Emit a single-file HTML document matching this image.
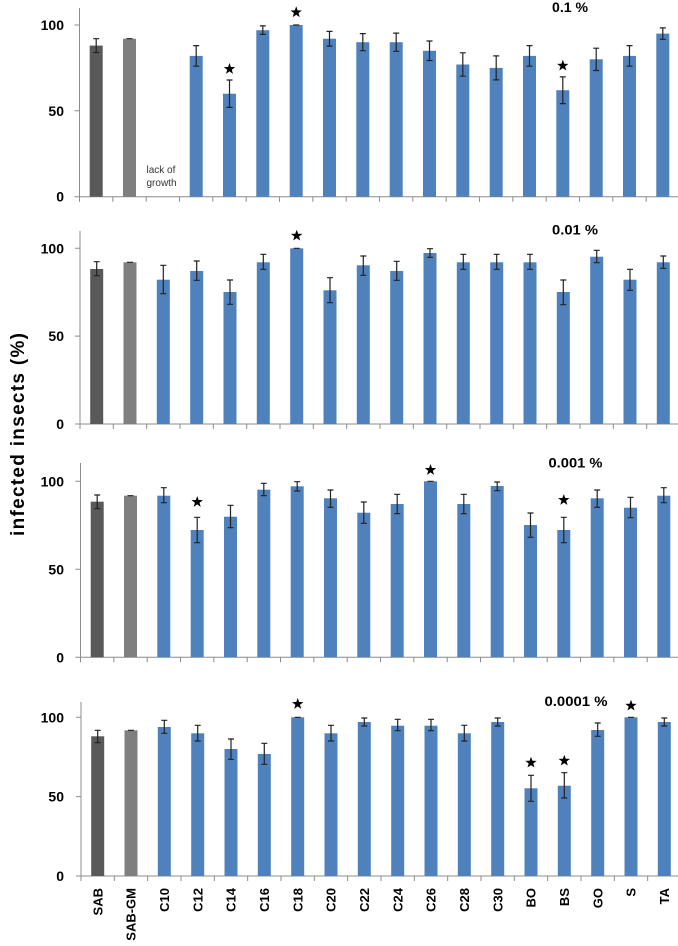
<!DOCTYPE html>
<html><head><meta charset="utf-8"><style>
html,body{margin:0;padding:0;background:#fff;}
svg{display:block;}
text{font-family:"Liberation Sans",Arial,sans-serif;}
</style></head><body>
<svg width="678" height="946" viewBox="0 0 678 946" xmlns="http://www.w3.org/2000/svg">
<defs>
<polygon id="star" points="0,-6 1.41,-1.94 5.71,-1.85 2.28,0.74 3.53,4.85 0,2.4 -3.53,4.85 -2.28,0.74 -5.71,-1.85 -1.41,-1.94" fill="#000"/>
</defs>

<!-- Y axis title -->
<text x="24" y="434.5" transform="rotate(-90 24 434.5)" text-anchor="middle" font-size="19" font-weight="bold" fill="#000" textLength="203" lengthAdjust="spacing">infected insects (%)</text>

<!-- ================= PANEL 1 ================= -->
<g transform="translate(79.5,196.7)">
<path d="M0 -188.7V0H600 M-5 0h5 M-5 -85.9h5 M-5 -171.7h5 M0 0v5 M33.33 0v5 M66.67 0v5 M100 0v5 M133.33 0v5 M166.67 0v5 M200 0v5 M233.33 0v5 M266.67 0v5 M300 0v5 M333.33 0v5 M366.67 0v5 M400 0v5 M433.33 0v5 M466.67 0v5 M500 0v5 M533.33 0v5 M566.67 0v5 M600 0v5" stroke="#8c8c8c" stroke-width="1" fill="none"/>
<g font-size="14" font-weight="bold" text-anchor="end" fill="#000">
<text x="-15.5" y="5">0</text><text x="-15.5" y="-80.9">50</text><text x="-15.5" y="-166.7">100</text>
</g>
<rect x="10.2" y="-151.1" width="13" height="151.1" fill="#595959"/>
<rect x="43.5" y="-158" width="13" height="158" fill="#7f7f7f"/>
<g fill="#4f81bd">
<rect x="110.2" y="-140.8" width="13" height="140.8"/>
<rect x="143.5" y="-103" width="13" height="103"/>
<rect x="176.8" y="-166.5" width="13" height="166.5"/>
<rect x="210.2" y="-171.7" width="13" height="171.7"/>
<rect x="243.5" y="-158" width="13" height="158"/>
<rect x="276.8" y="-154.5" width="13" height="154.5"/>
<rect x="310.2" y="-154.5" width="13" height="154.5"/>
<rect x="343.5" y="-145.9" width="13" height="145.9"/>
<rect x="376.8" y="-132.2" width="13" height="132.2"/>
<rect x="410.2" y="-128.8" width="13" height="128.8"/>
<rect x="443.5" y="-140.8" width="13" height="140.8"/>
<rect x="476.8" y="-106.5" width="13" height="106.5"/>
<rect x="510.2" y="-137.4" width="13" height="137.4"/>
<rect x="543.5" y="-140.8" width="13" height="140.8"/>
<rect x="576.8" y="-163.1" width="13" height="163.1"/>
</g>
<path stroke="#222" stroke-width="1.2" fill="none" d="
M16.7 -158V-144.2M13.7 -158h6M13.7 -144.2h6
M47 -158h6
M116.7 -151.1V-130.5M113.7 -151.1h6M113.7 -130.5h6
M150 -116.7V-89.3M147 -116.7h6M147 -89.3h6
M183.3 -170.8V-162.3M180.3 -170.8h6M180.3 -162.3h6
M213.7 -171.7h6
M250 -165.3V-150.6M247 -165.3h6M247 -150.6h6
M283.3 -163.1V-146M280.3 -163.1h6M280.3 -146h6
M316.7 -163.6V-145.4M313.7 -163.6h6M313.7 -145.4h6
M350 -155.7V-136.2M347 -155.7h6M347 -136.2h6
M383.3 -143.9V-120.5M380.3 -143.9h6M380.3 -120.5h6
M416.7 -140.8V-116.8M413.7 -140.8h6M413.7 -116.8h6
M450 -151.1V-130.5M447 -151.1h6M447 -130.5h6
M483.3 -119.8V-93.1M480.3 -119.8h6M480.3 -93.1h6
M516.7 -148.5V-126.2M513.7 -148.5h6M513.7 -126.2h6
M550 -151.1V-130.5M547 -151.1h6M547 -130.5h6
M583.3 -168.8V-157.4M580.3 -168.8h6M580.3 -157.4h6"/>
<use href="#star" x="150" y="-127.7"/>
<use href="#star" x="216.7" y="-184.4"/>
<use href="#star" x="483.3" y="-131"/>
<text x="67" y="-23.5" font-size="10" fill="#333">lack of</text>
<text x="67" y="-10.5" font-size="10" fill="#333">growth</text>
</g>
<text x="552" y="12" font-size="14" font-weight="bold" textLength="36" lengthAdjust="spacingAndGlyphs">0.1 %</text>

<!-- ================= PANEL 2 ================= -->
<g transform="translate(80,424)">
<path d="M0 -193V0H600 M-5 0h5 M-5 -87.9h5 M-5 -175.7h5 M0 0v5 M33.33 0v5 M66.67 0v5 M100 0v5 M133.33 0v5 M166.67 0v5 M200 0v5 M233.33 0v5 M266.67 0v5 M300 0v5 M333.33 0v5 M366.67 0v5 M400 0v5 M433.33 0v5 M466.67 0v5 M500 0v5 M533.33 0v5 M566.67 0v5 M600 0v5" stroke="#8c8c8c" stroke-width="1" fill="none"/>
<g font-size="14" font-weight="bold" text-anchor="end" fill="#000">
<text x="-16" y="5">0</text><text x="-16" y="-82.9">50</text><text x="-16" y="-170.7">100</text>
</g>
<rect x="10.2" y="-155" width="13" height="155" fill="#595959"/>
<rect x="43.5" y="-161.7" width="13" height="161.7" fill="#7f7f7f"/>
<g fill="#4f81bd">
<rect x="76.8" y="-144.3" width="13" height="144.3"/>
<rect x="110.2" y="-153" width="13" height="153"/>
<rect x="143.5" y="-132" width="13" height="132"/>
<rect x="176.8" y="-161.7" width="13" height="161.7"/>
<rect x="210.2" y="-175.7" width="13" height="175.7"/>
<rect x="243.5" y="-133.7" width="13" height="133.7"/>
<rect x="276.8" y="-158.7" width="13" height="158.7"/>
<rect x="310.2" y="-153" width="13" height="153"/>
<rect x="343.5" y="-171" width="13" height="171"/>
<rect x="376.8" y="-161.7" width="13" height="161.7"/>
<rect x="410.2" y="-161.7" width="13" height="161.7"/>
<rect x="443.5" y="-161.7" width="13" height="161.7"/>
<rect x="476.8" y="-132" width="13" height="132"/>
<rect x="510.2" y="-167.3" width="13" height="167.3"/>
<rect x="543.5" y="-144.3" width="13" height="144.3"/>
<rect x="576.8" y="-161.7" width="13" height="161.7"/>
</g>
<path stroke="#222" stroke-width="1.2" fill="none" d="
M16.7 -162.3V-148.3M13.7 -162.3h6M13.7 -148.3h6
M47 -161.7h6
M83.3 -158.7V-130.3M80.3 -158.7h6M80.3 -130.3h6
M116.7 -163V-143.7M113.7 -163h6M113.7 -143.7h6
M150 -144V-119.7M147 -144h6M147 -119.7h6
M183.3 -169.7V-154.7M180.3 -169.7h6M180.3 -154.7h6
M213.7 -175.7h6
M250 -146.3V-121.3M247 -146.3h6M247 -121.3h6
M283.3 -168V-148.7M280.3 -168h6M280.3 -148.7h6
M316.7 -162.7V-143.7M313.7 -162.7h6M313.7 -143.7h6
M350 -175.3V-166.7M347 -175.3h6M347 -166.7h6
M383.3 -169.7V-154.7M380.3 -169.7h6M380.3 -154.7h6
M416.7 -169.7V-154.7M413.7 -169.7h6M413.7 -154.7h6
M450 -169.7V-154.7M447 -169.7h6M447 -154.7h6
M483.3 -144V-119.3M480.3 -144h6M480.3 -119.3h6
M516.7 -173.7V-161.3M513.7 -173.7h6M513.7 -161.3h6
M550 -154.7V-133.7M547 -154.7h6M547 -133.7h6
M583.3 -168V-155.7M580.3 -168h6M580.3 -155.7h6"/>
<use href="#star" x="216.7" y="-188.3"/>
</g>
<text x="552" y="234.5" font-size="14" font-weight="bold" textLength="46" lengthAdjust="spacingAndGlyphs">0.01 %</text>

<!-- ================= PANEL 3 ================= -->
<g transform="translate(80.5,657.3)">
<path d="M0 -194.3V0H600 M-5 0h5 M-5 -88h5 M-5 -176h5 M0 0v5 M33.33 0v5 M66.67 0v5 M100 0v5 M133.33 0v5 M166.67 0v5 M200 0v5 M233.33 0v5 M266.67 0v5 M300 0v5 M333.33 0v5 M366.67 0v5 M400 0v5 M433.33 0v5 M466.67 0v5 M500 0v5 M533.33 0v5 M566.67 0v5 M600 0v5" stroke="#8c8c8c" stroke-width="1" fill="none"/>
<g font-size="14" font-weight="bold" text-anchor="end" fill="#000">
<text x="-16.5" y="5">0</text><text x="-16.5" y="-83">50</text><text x="-16.5" y="-171">100</text>
</g>
<rect x="10.2" y="-155.6" width="13" height="155.6" fill="#595959"/>
<rect x="43.5" y="-161.6" width="13" height="161.6" fill="#7f7f7f"/>
<g fill="#4f81bd">
<rect x="76.8" y="-161.6" width="13" height="161.6"/>
<rect x="110.2" y="-127.3" width="13" height="127.3"/>
<rect x="143.5" y="-140.6" width="13" height="140.6"/>
<rect x="176.8" y="-167.6" width="13" height="167.6"/>
<rect x="210.2" y="-171" width="13" height="171"/>
<rect x="243.5" y="-159" width="13" height="159"/>
<rect x="276.8" y="-144.6" width="13" height="144.6"/>
<rect x="310.2" y="-153.3" width="13" height="153.3"/>
<rect x="343.5" y="-176" width="13" height="176"/>
<rect x="376.8" y="-153.3" width="13" height="153.3"/>
<rect x="410.2" y="-171.3" width="13" height="171.3"/>
<rect x="443.5" y="-132.3" width="13" height="132.3"/>
<rect x="476.8" y="-127.3" width="13" height="127.3"/>
<rect x="510.2" y="-159" width="13" height="159"/>
<rect x="543.5" y="-149.6" width="13" height="149.6"/>
<rect x="576.8" y="-161.6" width="13" height="161.6"/>
</g>
<path stroke="#222" stroke-width="1.2" fill="none" d="
M16.7 -162.3V-148.6M13.7 -162.3h6M13.7 -148.6h6
M47 -161.6h6
M83.3 -169.6V-154.6M80.3 -169.6h6M80.3 -154.6h6
M116.7 -140V-114.6M113.7 -140h6M113.7 -114.6h6
M150 -152V-129.6M147 -152h6M147 -129.6h6
M183.3 -174V-161.6M180.3 -174h6M180.3 -161.6h6
M216.7 -175.6V-166.3M213.7 -175.6h6M213.7 -166.3h6
M250 -167.3V-150M247 -167.3h6M247 -150h6
M283.3 -155.3V-134M280.3 -155.3h6M280.3 -134h6
M316.7 -163V-143.6M313.7 -163h6M313.7 -143.6h6
M347 -176h6
M383.3 -163V-143.6M380.3 -163h6M380.3 -143.6h6
M416.7 -175.3V-166.6M413.7 -175.3h6M413.7 -166.6h6
M450 -144.3V-120M447 -144.3h6M447 -120h6
M483.3 -140V-114.6M480.3 -140h6M480.3 -114.6h6
M516.7 -167.3V-150M513.7 -167.3h6M513.7 -150h6
M550 -160V-139.6M547 -160h6M547 -139.6h6
M583.3 -169.6V-154.6M580.3 -169.6h6M580.3 -154.6h6"/>
<use href="#star" x="116.7" y="-155.3"/>
<use href="#star" x="350" y="-187.3"/>
<use href="#star" x="483.3" y="-157.3"/>
</g>
<text x="548.5" y="467.5" font-size="14" font-weight="bold" textLength="54" lengthAdjust="spacingAndGlyphs">0.001 %</text>

<!-- ================= PANEL 4 ================= -->
<g transform="translate(81,876)">
<path d="M0 -174V0H600 M-5 0h5 M-5 -79.4h5 M-5 -158.7h5 M0 0v5 M33.33 0v5 M66.67 0v5 M100 0v5 M133.33 0v5 M166.67 0v5 M200 0v5 M233.33 0v5 M266.67 0v5 M300 0v5 M333.33 0v5 M366.67 0v5 M400 0v5 M433.33 0v5 M466.67 0v5 M500 0v5 M533.33 0v5 M566.67 0v5 M600 0v5" stroke="#8c8c8c" stroke-width="1" fill="none"/>
<g font-size="14" font-weight="bold" text-anchor="end" fill="#000">
<text x="-17" y="5">0</text><text x="-17" y="-74.4">50</text><text x="-17" y="-153.7">100</text>
</g>
<rect x="10.2" y="-139.7" width="13" height="139.7" fill="#595959"/>
<rect x="43.5" y="-145.7" width="13" height="145.7" fill="#7f7f7f"/>
<g fill="#4f81bd">
<rect x="76.8" y="-149" width="13" height="149"/>
<rect x="110.2" y="-142.7" width="13" height="142.7"/>
<rect x="143.5" y="-127" width="13" height="127"/>
<rect x="176.8" y="-122" width="13" height="122"/>
<rect x="210.2" y="-158.7" width="13" height="158.7"/>
<rect x="243.5" y="-142.7" width="13" height="142.7"/>
<rect x="276.8" y="-154" width="13" height="154"/>
<rect x="310.2" y="-150.3" width="13" height="150.3"/>
<rect x="343.5" y="-150.3" width="13" height="150.3"/>
<rect x="376.8" y="-142.7" width="13" height="142.7"/>
<rect x="410.2" y="-154" width="13" height="154"/>
<rect x="443.5" y="-87.7" width="13" height="87.7"/>
<rect x="476.8" y="-90.3" width="13" height="90.3"/>
<rect x="510.2" y="-146" width="13" height="146"/>
<rect x="543.5" y="-158.7" width="13" height="158.7"/>
<rect x="576.8" y="-154" width="13" height="154"/>
</g>
<path stroke="#222" stroke-width="1.2" fill="none" d="
M16.7 -145.7V-133.3M13.7 -145.7h6M13.7 -133.3h6
M47 -145.7h6
M83.3 -155.7V-142.7M80.3 -155.7h6M80.3 -142.7h6
M116.7 -150.7V-135M113.7 -150.7h6M113.7 -135h6
M150 -137V-116.7M147 -137h6M147 -116.7h6
M183.3 -132.7V-111.7M180.3 -132.7h6M180.3 -111.7h6
M213.7 -158.7h6
M250 -150.7V-135M247 -150.7h6M247 -135h6
M283.3 -158V-150M280.3 -158h6M280.3 -150h6
M316.7 -156.7V-145.3M313.7 -156.7h6M313.7 -145.3h6
M350 -156.7V-145.3M347 -156.7h6M347 -145.3h6
M383.3 -150.7V-135M380.3 -150.7h6M380.3 -135h6
M416.7 -158V-150M413.7 -158h6M413.7 -150h6
M450 -100.7V-74.7M447 -100.7h6M447 -74.7h6
M483.3 -103.3V-78M480.3 -103.3h6M480.3 -78h6
M516.7 -153V-139.7M513.7 -153h6M513.7 -139.7h6
M547 -158.7h6
M583.3 -158V-150M580.3 -158h6M580.3 -150h6"/>
<use href="#star" x="216.7" y="-172"/>
<use href="#star" x="450" y="-113.3"/>
<use href="#star" x="483.3" y="-115.3"/>
<use href="#star" x="550" y="-170.3"/>
</g>
<text x="544.5" y="706" font-size="14" font-weight="bold" textLength="63" lengthAdjust="spacingAndGlyphs">0.0001 %</text>

<!-- X labels -->
<g font-size="13" font-weight="bold" text-anchor="end" fill="#000">
<text x="102.4" y="888" transform="rotate(-90 102.4 888)">SAB</text>
<text x="135.7" y="888" transform="rotate(-90 135.7 888)">SAB-GM</text>
<text x="169" y="888" transform="rotate(-90 169 888)">C10</text>
<text x="202.4" y="888" transform="rotate(-90 202.4 888)">C12</text>
<text x="235.7" y="888" transform="rotate(-90 235.7 888)">C14</text>
<text x="269" y="888" transform="rotate(-90 269 888)">C16</text>
<text x="302.4" y="888" transform="rotate(-90 302.4 888)">C18</text>
<text x="335.7" y="888" transform="rotate(-90 335.7 888)">C20</text>
<text x="369" y="888" transform="rotate(-90 369 888)">C22</text>
<text x="402.4" y="888" transform="rotate(-90 402.4 888)">C24</text>
<text x="435.7" y="888" transform="rotate(-90 435.7 888)">C26</text>
<text x="469" y="888" transform="rotate(-90 469 888)">C28</text>
<text x="502.4" y="888" transform="rotate(-90 502.4 888)">C30</text>
<text x="535.7" y="888" transform="rotate(-90 535.7 888)">BO</text>
<text x="569" y="888" transform="rotate(-90 569 888)">BS</text>
<text x="602.4" y="888" transform="rotate(-90 602.4 888)">GO</text>
<text x="635.7" y="888" transform="rotate(-90 635.7 888)">S</text>
<text x="669" y="888" transform="rotate(-90 669 888)">TA</text>
</g>
</svg>
</body></html>
